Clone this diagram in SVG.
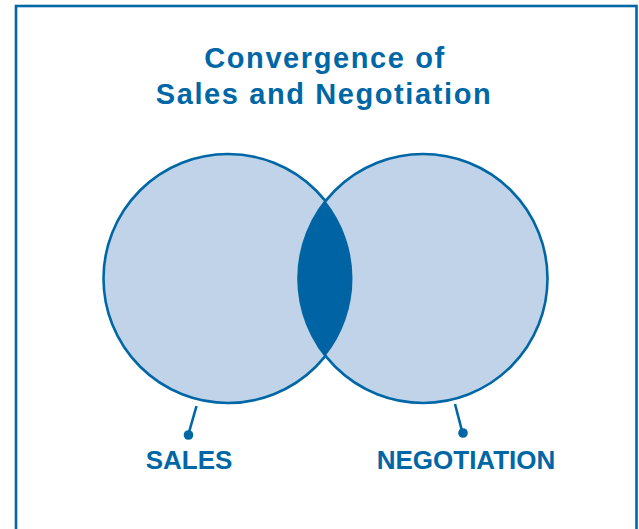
<svg xmlns="http://www.w3.org/2000/svg" width="639" height="529" viewBox="0 0 639 529">
<style>
.frame{fill:#fff;stroke:#0067a6;stroke-width:2.6}
.circ{fill:#c0d3e8;stroke:#0067a6;stroke-width:2.6}
.lens{fill:#0063a3}
.title{font-family:"Liberation Sans",Arial,sans-serif;font-weight:bold;font-size:29px;fill:#0067a6;text-anchor:middle;letter-spacing:1.6px}
.label{font-family:"Liberation Sans",Arial,sans-serif;font-weight:bold;font-size:26px;fill:#0067a6;text-anchor:middle}
.lead{stroke:#0067a6;stroke-width:2.6;fill:none}
.dot{fill:#0067a6}
</style>
<rect class="frame" x="16" y="6" width="620.5" height="540"/>
<g id="title">
<text class="title" x="325" y="68">Convergence of</text>
<text class="title" x="324" y="104">Sales and Negotiation</text>
</g>
<g id="sales">
<circle class="circ" cx="228" cy="278.5" r="124.5"/>
<text class="label" x="189" y="469">SALES</text>
</g>
<g id="negotiation">
<circle class="circ" cx="423" cy="278.5" r="124.5"/>
<text class="label" x="466" y="469">NEGOTIATION</text>
</g>
<g id="intersection">
<path class="lens" d="M325.5,201.1 A124.5,124.5 0 0 1 325.5,355.9 A124.5,124.5 0 0 1 325.5,201.1 Z"/>
</g>
<g id="connectors">
<line class="lead" x1="196.5" y1="406" x2="188.5" y2="434"/>
<circle class="dot" cx="188.5" cy="435" r="4.8"/>
<line class="lead" x1="455" y1="404" x2="462" y2="431"/>
<circle class="dot" cx="463" cy="433" r="4.8"/>
</g>
</svg>
